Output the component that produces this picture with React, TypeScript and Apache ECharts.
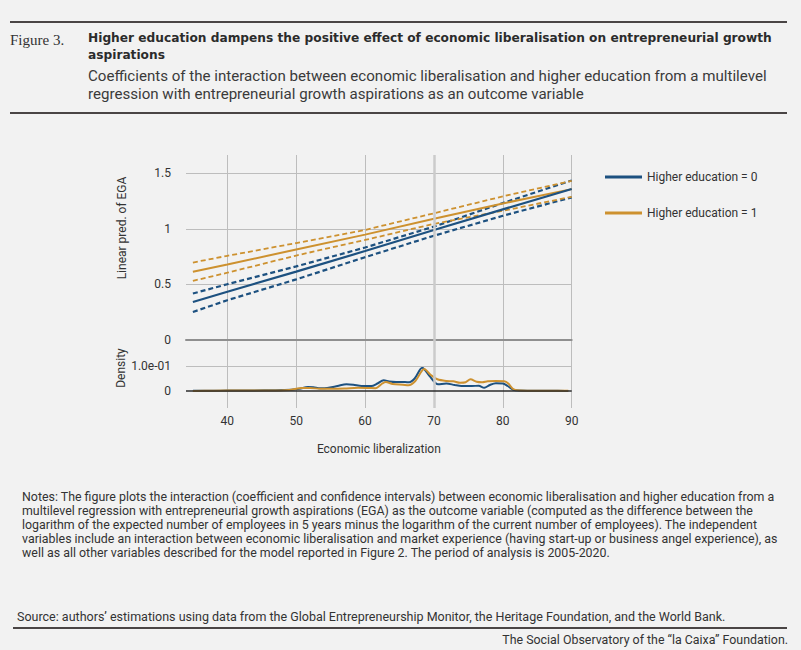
import React, { useEffect, useRef } from "react";
import * as echarts from "echarts";

// ---- Data ----
const xPts = [35, 40, 50, 60, 70, 80, 90];
const edu0Fit = [0.342, 0.434, 0.615, 0.8, 0.99, 1.175, 1.358];
const edu0Upper = [0.418, 0.502, 0.662, 0.832, 1.02, 1.232, 1.435];
const edu0Lower = [0.252, 0.358, 0.545, 0.745, 0.938, 1.117, 1.283];
const edu1Fit = [0.613, 0.679, 0.814, 0.948, 1.09, 1.228, 1.357];
const edu1Upper = [0.697, 0.757, 0.872, 0.99, 1.14, 1.292, 1.432];
const edu1Lower = [0.532, 0.605, 0.76, 0.9, 1.045, 1.162, 1.288];

const dens0X = [35, 38, 40, 43, 46, 48, 49.3, 50.5, 51.7, 52.5, 53.5, 54.5, 56, 57.3, 58.3, 59.5, 60.9, 61.8, 62.7, 63.5, 64.5, 65.8, 66.4, 67.2, 68.3, 69.3, 70.6, 71.8, 73, 74, 75.5, 76.5, 77.3, 78.1, 79, 80, 80.7, 81.5, 82.5, 85, 88, 89.5];
const dens0Y = [0.001, 0.001, 0.002, 0.002, 0.003, 0.004, 0.005, 0.009, 0.016, 0.015, 0.011, 0.012, 0.02, 0.027, 0.025, 0.02, 0.02, 0.03, 0.043, 0.038, 0.036, 0.036, 0.035, 0.05, 0.093, 0.062, 0.027, 0.03, 0.024, 0.02, 0.02, 0.021, 0.013, 0.024, 0.031, 0.03, 0.02, 0.005, 0.002, 0.001, 0.001, 0.0];
const dens1X = [35, 38, 42, 46, 49, 50, 50.8, 52, 53.5, 55, 57, 59, 60.5, 61.5, 62.5, 63, 64, 65.5, 66.3, 67.3, 68.6, 69.5, 70.5, 71.8, 72.8, 73.8, 74.6, 75.3, 76.2, 77, 77.8, 79, 80.2, 80.8, 81.5, 82.5, 85, 89.5];
const dens1Y = [0.0, 0.001, 0.002, 0.002, 0.004, 0.009, 0.012, 0.012, 0.009, 0.009, 0.01, 0.013, 0.012, 0.011, 0.03, 0.036, 0.028, 0.025, 0.023, 0.04, 0.088, 0.065, 0.047, 0.04, 0.039, 0.033, 0.035, 0.047, 0.037, 0.035, 0.039, 0.04, 0.039, 0.03, 0.008, 0.002, 0.001, 0.001];

const seriesNames = ["Higher education = 0", "Higher education = 1"];
const refX = 70;
const densGridValues = [0.1];

const title1 = "Higher education dampens the positive effect of economic liberalisation on entrepreneurial growth";
const title2 = "aspirations";
const sub1 = "Coefficients of the interaction between economic liberalisation and higher education from a multilevel";
const sub2 = "regression with entrepreneurial growth aspirations as an outcome variable";
const notes = [
  "Notes: The figure plots the interaction (coefficient and confidence intervals) between economic liberalisation and higher education from a",
  "multilevel regression with entrepreneurial growth aspirations (EGA) as the outcome variable (computed as the difference between the",
  "logarithm of the expected number of employees in 5 years minus the logarithm of the current number of employees). The independent",
  "variables include an interaction between economic liberalisation and market experience (having start-up or business angel experience), as",
  "well as all other variables described for the model reported in Figure 2. The period of analysis is 2005-2020.",
];
const sourceText = "Source: authors’ estimations using data from the Global Entrepreneurship Monitor, the Heritage Foundation, and the World Bank.";
const footerText = "The Social Observatory of the “la Caixa” Foundation.";

const BLUE = "#1d5180";
const ORANGE = "#cd912f";
const FONT = "Roboto, Arial, sans-serif";

const zip = (xs: number[], ys: number[]) => xs.map((x, i) => [x, ys[i]]);

export default function App() {
  const ref = useRef<HTMLDivElement>(null);
  useEffect(() => {
    if (!ref.current) return;
    const chart = echarts.init(ref.current, null, { renderer: "svg" });

    const lineSeries = (name: string, ys: number[], color: string, dashed: boolean, width: number) => ({
      name,
      type: "line",
      xAxisIndex: 0,
      yAxisIndex: 0,
      data: zip(xPts, ys),
      showSymbol: false,
      symbol: "none",
      lineStyle: { color, width, type: dashed ? [5, 3] : "solid" },
      itemStyle: { color },
      z: 3,
    });

    const headerText = (text: string, x: number, y: number, style: any) => ({
      type: "text",
      x,
      y,
      style: { text, verticalAlign: "middle", fill: "#333", fontFamily: FONT, ...style },
    });

    const option: any = {
      animation: false,
      backgroundColor: "#f2f2f2",
      textStyle: { fontFamily: FONT },
      legend: {
        data: seriesNames,
        orient: "vertical",
        left: 600,
        top: 166,
        itemWidth: 37,
        itemHeight: 3,
        itemGap: 24,
        icon: "rect",
        textStyle: { fontSize: 12, color: "#333", fontFamily: FONT },
      },
      grid: [
        { left: 186, width: 385.7, top: 155, height: 185 },
        { left: 186, width: 385.7, top: 340, height: 68 },
      ],
      xAxis: [
        {
          gridIndex: 0,
          type: "value",
          min: 34,
          max: 90,
          splitNumber: 5,
          axisLine: { show: true, lineStyle: { color: "#8f8f8f", width: 2 } },
          axisTick: { show: false },
          axisLabel: { show: false },
          splitLine: { show: true, showMinLine: false, lineStyle: { color: "#bdbdbd", width: 1 } },
        },
        {
          gridIndex: 1,
          type: "value",
          min: 34,
          max: 90,
          splitNumber: 5,
          axisLine: { show: false },
          axisTick: { show: false },
          axisLabel: { show: true, showMinLabel: false, color: "#333", fontSize: 12, margin: 7, fontFamily: FONT },
          splitLine: { show: true, showMinLine: false, lineStyle: { color: "#bdbdbd", width: 1 } },
          name: "Economic liberalization",
          nameLocation: "middle",
          nameGap: 35,
          nameTextStyle: { color: "#333", fontSize: 12, fontFamily: FONT },
        },
      ],
      yAxis: [
        {
          gridIndex: 0,
          type: "value",
          min: 0,
          max: 1.664,
          interval: 0.5,
          axisLine: { show: false },
          axisTick: { show: false },
          axisLabel: { showMaxLabel: false, color: "#333", fontSize: 12, margin: 15, fontFamily: FONT },
          splitLine: { show: true, showMinLine: false, showMaxLine: false, lineStyle: { color: "#bdbdbd", width: 1 } },
        },
        {
          gridIndex: 1,
          type: "value",
          min: -0.068,
          max: 0.204,
          splitNumber: 3,
          axisLine: { show: false },
          axisTick: { show: false },
          axisLabel: {
            color: "#333",
            fontSize: 12,
            margin: 15,
            fontFamily: FONT,
            formatter: (v: number) => (Math.abs(v) < 1e-6 ? "0" : Math.abs(v - 0.1) < 1e-6 ? "1.0e-01" : ""),
          },
          splitLine: { show: false },
        },
      ],
      series: [
        {
          name: "ref-top",
          type: "line",
          xAxisIndex: 0,
          yAxisIndex: 0,
          data: [],
          z: 1,
          markLine: {
            silent: true,
            symbol: "none",
            label: { show: false },
            lineStyle: { color: "#cbcbcb", width: 2.5, type: "solid" },
            data: [{ xAxis: refX }],
          },
        },
        {
          name: "ref-bottom",
          type: "line",
          xAxisIndex: 1,
          yAxisIndex: 1,
          data: [],
          z: 1,
          markLine: {
            silent: true,
            symbol: "none",
            label: { show: false },
            data: [
              { xAxis: refX, lineStyle: { color: "#cbcbcb", width: 2.5, type: "solid" } },
              ...densGridValues.map((v) => ({ yAxis: v, lineStyle: { color: "#bdbdbd", width: 1, type: "solid" } })),
              { yAxis: 0, lineStyle: { color: "#2b2b2b", width: 1.5, type: "solid" } },
            ],
          },
        },
        lineSeries("edu0-upper", edu0Upper, BLUE, true, 2.2),
        lineSeries("edu0-lower", edu0Lower, BLUE, true, 2.2),
        lineSeries("edu1-upper", edu1Upper, ORANGE, true, 1.8),
        lineSeries("edu1-lower", edu1Lower, ORANGE, true, 1.8),
        lineSeries(seriesNames[1], edu1Fit, ORANGE, false, 2),
        lineSeries(seriesNames[0], edu0Fit, BLUE, false, 2.2),
        {
          name: "dens0",
          type: "line",
          xAxisIndex: 1,
          yAxisIndex: 1,
          data: zip(dens0X, dens0Y),
          smooth: 0.3,
          showSymbol: false,
          symbol: "none",
          lineStyle: { color: BLUE, width: 2 },
          z: 3,
        },
        {
          name: "dens1",
          type: "line",
          xAxisIndex: 1,
          yAxisIndex: 1,
          data: zip(dens1X, dens1Y),
          smooth: 0.3,
          showSymbol: false,
          symbol: "none",
          lineStyle: { color: ORANGE, width: 2 },
          z: 4,
        },
      ],
      graphic: [
        { type: "line", shape: { x1: 10, y1: 22, x2: 787, y2: 22 }, style: { stroke: "#4a4545", lineWidth: 2 } },
        { type: "line", shape: { x1: 10, y1: 113, x2: 787, y2: 113 }, style: { stroke: "#4a4545", lineWidth: 2 } },
        { type: "line", shape: { x1: 13, y1: 628, x2: 787, y2: 628 }, style: { stroke: "#4a4545", lineWidth: 2 } },
        headerText("Figure 3.", 10, 40, { fontFamily: "'Liberation Serif', serif", fontSize: 15, fill: "#333" }),
        headerText(title1, 88, 38, { fontFamily: "'DejaVu Sans', sans-serif", fontSize: 12.2, fontWeight: "bold", fill: "#2b2b2b" }),
        headerText(title2, 88, 55, { fontFamily: "'DejaVu Sans', sans-serif", fontSize: 12.2, fontWeight: "bold", fill: "#2b2b2b" }),
        headerText(sub1, 88, 76, { fontSize: 15.1, fill: "#3a3a3a" }),
        headerText(sub2, 88, 94, { fontSize: 15.1, fill: "#3a3a3a" }),
        ...notes.map((t, i) => headerText(t, 22, 496 + i * 14.1, { fontSize: 12.4, fill: "#333" })),
        headerText(sourceText, 17, 616, { fontSize: 12.5, fill: "#333" }),
        headerText(footerText, 788, 639, { fontSize: 12.4, fill: "#333", align: "right" }),
        {
          type: "text",
          x: 122,
          y: 228,
          rotation: Math.PI / 2,
          style: { text: "Linear pred. of EGA", align: "center", verticalAlign: "middle", fontSize: 12, fill: "#333", fontFamily: FONT },
        },
        {
          type: "text",
          x: 121,
          y: 368,
          rotation: Math.PI / 2,
          style: { text: "Density", align: "center", verticalAlign: "middle", fontSize: 12, fill: "#333", fontFamily: FONT },
        },
      ],
    };

    chart.setOption(option);
    return () => chart.dispose();
  }, []);

  return (
    <div
      ref={ref}
      style={{ position: "absolute", left: 0, top: 0, width: 801, height: 650, background: "#f2f2f2" }}
    />
  );
}
